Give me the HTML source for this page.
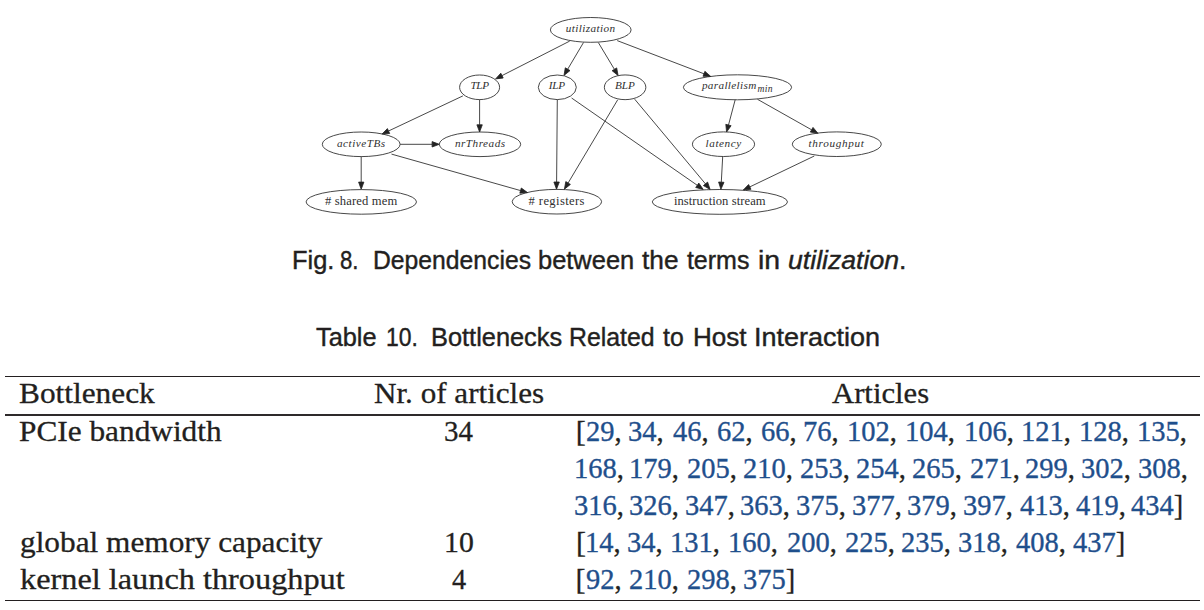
<!DOCTYPE html>
<html><head><meta charset="utf-8"><title>Fig. 8 and Table 10</title>
<style>
html,body{margin:0;padding:0;background:#fff;}
body{width:1204px;height:610px;position:relative;overflow:hidden;color:#231f20;}
.c,.t{position:absolute;white-space:pre;transform-origin:0 0;}
.c{font-family:"Liberation Sans",sans-serif;font-size:25px;line-height:25px;-webkit-text-stroke:0.4px #231f20;}
.t{font-family:"Liberation Serif",serif;font-size:30px;line-height:30px;-webkit-text-stroke:0.3px #231f20;}
.rule{position:absolute;left:4.9px;width:1195.5px;background:#231f20;}
.b{color:#1f4f8c;-webkit-text-stroke:0.35px #1f4f8c;}
</style></head><body>
<svg width="1204" height="230" viewBox="0 0 1204 230" style="position:absolute;left:0;top:0">
<g fill="none" stroke="#333" stroke-width="0.9">
<ellipse cx="590.75" cy="29.9" rx="40.35" ry="12.4"/>
<ellipse cx="479.6" cy="87.3" rx="20.0" ry="12.3"/>
<ellipse cx="557.3" cy="87.3" rx="19.0" ry="12.3"/>
<ellipse cx="625.1" cy="87.3" rx="20.75" ry="12.35"/>
<ellipse cx="737.5" cy="87.3" rx="54.1" ry="12.5"/>
<ellipse cx="361.2" cy="144.3" rx="38.9" ry="12.3"/>
<ellipse cx="480.0" cy="144.3" rx="40.7" ry="12.3"/>
<ellipse cx="723.5" cy="144.2" rx="31.1" ry="12.3"/>
<ellipse cx="836.8" cy="144.2" rx="44.5" ry="12.3"/>
<ellipse cx="361.3" cy="201.9" rx="55.2" ry="12.3"/>
<ellipse cx="556.9" cy="201.7" rx="44.7" ry="12.3"/>
<ellipse cx="719.9" cy="201.9" rx="67.6" ry="12.4"/>
<path d="M569.7,41.1L502.0,75.6"/>
<path d="M583.5,42.5L567.7,69.2"/>
<path d="M598.3,42.5L614.4,69.3"/>
<path d="M617.2,40.6L704.0,73.8"/>
<path d="M462.9,95.9L388.5,131.0"/>
<path d="M479.6,99.6L479.6,124.8"/>
<path d="M557.3,99.6L556.6,182.0"/>
<path d="M571.6,98.0L697.3,185.3"/>
<path d="M617.7,99.8L568.1,183.0"/>
<path d="M634.7,99.2L705.5,183.9"/>
<path d="M735.2,99.7L728.5,125.0"/>
<path d="M757.5,99.3L811.6,129.8"/>
<path d="M400.1,144.3L432.1,144.3"/>
<path d="M361.2,156.6L361.2,182.1"/>
<path d="M391.5,154.1L520.6,190.6"/>
<path d="M722.7,156.5L721.3,182.1"/>
<path d="M814.3,156.0L749.8,186.9"/>
</g><g fill="#222" stroke="#222" stroke-width="0.8">
<polygon points="495.6,78.9 500.8,73.2 503.2,78.0"/>
<polygon points="564.0,75.4 565.3,67.8 570.0,70.6"/>
<polygon points="618.1,75.5 612.1,70.7 616.7,67.9"/>
<polygon points="710.7,76.4 703.0,76.3 704.9,71.3"/>
<polygon points="382.0,134.1 387.4,128.6 389.7,133.5"/>
<polygon points="479.6,132.0 476.9,124.8 482.3,124.8"/>
<polygon points="556.5,189.2 553.9,182.0 559.3,182.0"/>
<polygon points="703.2,189.4 695.7,187.5 698.8,183.1"/>
<polygon points="564.4,189.2 565.8,181.6 570.4,184.4"/>
<polygon points="710.1,189.4 703.4,185.6 707.6,182.1"/>
<polygon points="726.6,132.0 725.8,124.3 731.1,125.7"/>
<polygon points="817.9,133.3 810.3,132.1 813.0,127.4"/>
<polygon points="439.3,144.3 432.1,147.0 432.1,141.6"/>
<polygon points="361.2,189.3 358.6,182.1 363.9,182.1"/>
<polygon points="527.5,192.6 519.8,193.2 521.3,188.0"/>
<polygon points="720.9,189.3 718.6,182.0 724.0,182.3"/>
<polygon points="743.3,190.0 748.6,184.5 751.0,189.3"/>
</g><g fill="#303030" font-family="Liberation Serif">
<text x="565.7" y="32.0" textLength="49.5" lengthAdjust="spacing" font-style="italic" font-size="11.2">utilization</text>
<text x="470.5" y="88.9" textLength="18.5" lengthAdjust="spacing" font-style="italic" font-size="11.2">TLP</text>
<text x="548.7" y="88.9" textLength="16.4" lengthAdjust="spacing" font-style="italic" font-size="11.2">ILP</text>
<text x="615.0" y="88.9" textLength="19.9" lengthAdjust="spacing" font-style="italic" font-size="11.2">BLP</text>
<text x="701.9" y="88.9" textLength="54.4" lengthAdjust="spacing" font-style="italic" font-size="11.2">parallelism</text>
<text x="337.0" y="146.6" textLength="48.1" lengthAdjust="spacing" font-style="italic" font-size="11.2">activeTBs</text>
<text x="454.9" y="146.6" textLength="50.2" lengthAdjust="spacing" font-style="italic" font-size="11.2">nrThreads</text>
<text x="705.6" y="146.6" textLength="35.6" lengthAdjust="spacing" font-style="italic" font-size="11.2">latency</text>
<text x="808.5" y="146.6" textLength="55.3" lengthAdjust="spacing" font-style="italic" font-size="11.2">throughput</text>
<text x="325.0" y="204.8" textLength="72.3" lengthAdjust="spacing" font-size="12.6"># shared mem</text>
<text x="528.6" y="204.8" textLength="55.9" lengthAdjust="spacing" font-size="12.6"># registers</text>
<text x="673.9" y="204.9" textLength="91.7" lengthAdjust="spacing" font-size="12.6">instruction stream</text>
<text x="757.6" y="91.6" textLength="15.0" lengthAdjust="spacing" font-style="italic" font-size="9.6">min</text>
</g></svg>
<div class="rule" style="top:375.8px;height:1.4px"></div>
<div class="rule" style="top:414.35px;height:1.25px;background:#2e2a2b"></div>
<div class="rule" style="top:600.1px;height:1.4px"></div>
<div class="c" style="left:291.77px;top:247.74px;transform:scaleX(1.0162)">Fig.</div>
<div class="c" style="left:339.91px;top:247.74px;transform:scaleX(0.8889)">8.</div>
<div class="c" style="left:373.22px;top:247.74px;transform:scaleX(0.9885)">Dependencies</div>
<div class="c" style="left:538.36px;top:247.74px;transform:scaleX(1.0176)">between</div>
<div class="c" style="left:642.10px;top:247.74px;transform:scaleX(1.0500)">the</div>
<div class="c" style="left:686.90px;top:247.74px">terms</div>
<div class="c" style="left:757.73px;top:247.74px;transform:scaleX(1.1375)">in</div>
<div class="c" style="left:788.43px;top:247.74px;transform:scaleX(1.0657)"><i>utilization</i>.</div>
<div class="c" style="left:316.29px;top:324.84px;transform:scaleX(1.0138)">Table</div>
<div class="c" style="left:385.97px;top:324.84px;transform:scaleX(0.9167)">10.</div>
<div class="c" style="left:430.77px;top:324.84px;transform:scaleX(1.0151)">Bottlenecks</div>
<div class="c" style="left:569.21px;top:324.84px;transform:scaleX(0.9940)">Related</div>
<div class="c" style="left:663.00px;top:324.84px;transform:scaleX(0.9900)">to</div>
<div class="c" style="left:692.71px;top:324.84px;transform:scaleX(1.0429)">Host</div>
<div class="c" style="left:753.74px;top:324.84px;transform:scaleX(1.0805)">Interaction</div>
<div class="t" style="left:19.26px;top:377.68px;transform:scaleX(1.0442)">Bottleneck</div>
<div class="t" style="left:373.96px;top:377.68px;transform:scaleX(1.0370)">Nr. of articles</div>
<div class="t" style="left:831.80px;top:377.68px;transform:scaleX(1.0223)">Articles</div>
<div class="t" style="left:19.36px;top:415.57px;transform:scaleX(1.0435)">PCIe bandwidth</div>
<div class="t" style="left:443.97px;top:415.57px;transform:scaleX(0.9643)">34</div>
<div class="t" style="left:19.56px;top:526.77px;transform:scaleX(1.0433)">global memory capacity</div>
<div class="t" style="left:444.22px;top:526.77px;transform:scaleX(0.9923)">10</div>
<div class="t" style="left:19.52px;top:564.17px;transform:scaleX(1.0767)">kernel launch throughput</div>
<div class="t" style="left:452.16px;top:564.17px;transform:scaleX(0.9429)">4</div>
<div class="t" style="left:575.80px;top:415.57px">[</div>
<div class="t" style="left:586.45px;top:415.57px;transform:scaleX(0.9500)"><span class="b">29</span>,</div>
<div class="t" style="left:628.30px;top:415.57px;transform:scaleX(0.9500)"><span class="b">34</span>,</div>
<div class="t" style="left:673.15px;top:415.57px;transform:scaleX(0.9500)"><span class="b">46</span>,</div>
<div class="t" style="left:716.95px;top:415.57px;transform:scaleX(0.9500)"><span class="b">62</span>,</div>
<div class="t" style="left:760.95px;top:415.57px;transform:scaleX(0.9500)"><span class="b">66</span>,</div>
<div class="t" style="left:803.00px;top:415.57px;transform:scaleX(0.9500)"><span class="b">76</span>,</div>
<div class="t" style="left:846.95px;top:415.57px;transform:scaleX(0.9500)"><span class="b">102</span>,</div>
<div class="t" style="left:905.15px;top:415.57px;transform:scaleX(0.9500)"><span class="b">104</span>,</div>
<div class="t" style="left:963.55px;top:415.57px;transform:scaleX(0.9500)"><span class="b">106</span>,</div>
<div class="t" style="left:1020.95px;top:415.57px;transform:scaleX(0.9500)"><span class="b">121</span>,</div>
<div class="t" style="left:1078.75px;top:415.57px;transform:scaleX(0.9500)"><span class="b">128</span>,</div>
<div class="t" style="left:1136.55px;top:415.57px;transform:scaleX(0.9500)"><span class="b">135</span>,</div>
<div class="t" style="left:573.75px;top:452.77px;transform:scaleX(0.9500)"><span class="b">168</span>,</div>
<div class="t" style="left:629.05px;top:452.77px;transform:scaleX(0.9500)"><span class="b">179</span>,</div>
<div class="t" style="left:686.75px;top:452.77px;transform:scaleX(0.9500)"><span class="b">205</span>,</div>
<div class="t" style="left:743.45px;top:452.77px;transform:scaleX(0.9500)"><span class="b">210</span>,</div>
<div class="t" style="left:799.65px;top:452.77px;transform:scaleX(0.9500)"><span class="b">253</span>,</div>
<div class="t" style="left:855.95px;top:452.77px;transform:scaleX(0.9500)"><span class="b">254</span>,</div>
<div class="t" style="left:912.35px;top:452.77px;transform:scaleX(0.9500)"><span class="b">265</span>,</div>
<div class="t" style="left:970.05px;top:452.77px;transform:scaleX(0.9500)"><span class="b">271</span>,</div>
<div class="t" style="left:1025.45px;top:452.77px;transform:scaleX(0.9500)"><span class="b">299</span>,</div>
<div class="t" style="left:1080.80px;top:452.77px;transform:scaleX(0.9500)"><span class="b">302</span>,</div>
<div class="t" style="left:1137.70px;top:452.77px;transform:scaleX(0.9500)"><span class="b">308</span>,</div>
<div class="t" style="left:574.20px;top:489.88px;transform:scaleX(0.9500)"><span class="b">316</span>,</div>
<div class="t" style="left:628.80px;top:489.88px;transform:scaleX(0.9500)"><span class="b">326</span>,</div>
<div class="t" style="left:684.60px;top:489.88px;transform:scaleX(0.9500)"><span class="b">347</span>,</div>
<div class="t" style="left:740.00px;top:489.88px;transform:scaleX(0.9500)"><span class="b">363</span>,</div>
<div class="t" style="left:795.80px;top:489.88px;transform:scaleX(0.9500)"><span class="b">375</span>,</div>
<div class="t" style="left:851.60px;top:489.88px;transform:scaleX(0.9500)"><span class="b">377</span>,</div>
<div class="t" style="left:907.30px;top:489.88px;transform:scaleX(0.9500)"><span class="b">379</span>,</div>
<div class="t" style="left:963.10px;top:489.88px;transform:scaleX(0.9500)"><span class="b">397</span>,</div>
<div class="t" style="left:1019.85px;top:489.88px;transform:scaleX(0.9500)"><span class="b">413</span>,</div>
<div class="t" style="left:1075.65px;top:489.88px;transform:scaleX(0.9500)"><span class="b">419</span>,</div>
<div class="t" style="left:1130.85px;top:489.88px;transform:scaleX(0.9500)"><span class="b">434</span>]</div>
<div class="t" style="left:575.90px;top:526.77px">[</div>
<div class="t" style="left:585.35px;top:526.77px;transform:scaleX(0.9500)"><span class="b">14</span>,</div>
<div class="t" style="left:627.30px;top:526.77px;transform:scaleX(0.9500)"><span class="b">34</span>,</div>
<div class="t" style="left:670.15px;top:526.77px;transform:scaleX(0.9500)"><span class="b">131</span>,</div>
<div class="t" style="left:728.05px;top:526.77px;transform:scaleX(0.9500)"><span class="b">160</span>,</div>
<div class="t" style="left:787.25px;top:526.77px;transform:scaleX(0.9500)"><span class="b">200</span>,</div>
<div class="t" style="left:844.55px;top:526.77px;transform:scaleX(0.9500)"><span class="b">225</span>,</div>
<div class="t" style="left:901.35px;top:526.77px;transform:scaleX(0.9500)"><span class="b">235</span>,</div>
<div class="t" style="left:958.20px;top:526.77px;transform:scaleX(0.9500)"><span class="b">318</span>,</div>
<div class="t" style="left:1016.45px;top:526.77px;transform:scaleX(0.9500)"><span class="b">408</span>,</div>
<div class="t" style="left:1073.25px;top:526.77px;transform:scaleX(0.9500)"><span class="b">437</span>]</div>
<div class="t" style="left:575.60px;top:564.17px">[</div>
<div class="t" style="left:585.95px;top:564.17px;transform:scaleX(0.9500)"><span class="b">92</span>,</div>
<div class="t" style="left:628.85px;top:564.17px;transform:scaleX(0.9500)"><span class="b">210</span>,</div>
<div class="t" style="left:686.65px;top:564.17px;transform:scaleX(0.9500)"><span class="b">298</span>,</div>
<div class="t" style="left:743.10px;top:564.17px;transform:scaleX(0.9500)"><span class="b">375</span>]</div>
</body></html>
